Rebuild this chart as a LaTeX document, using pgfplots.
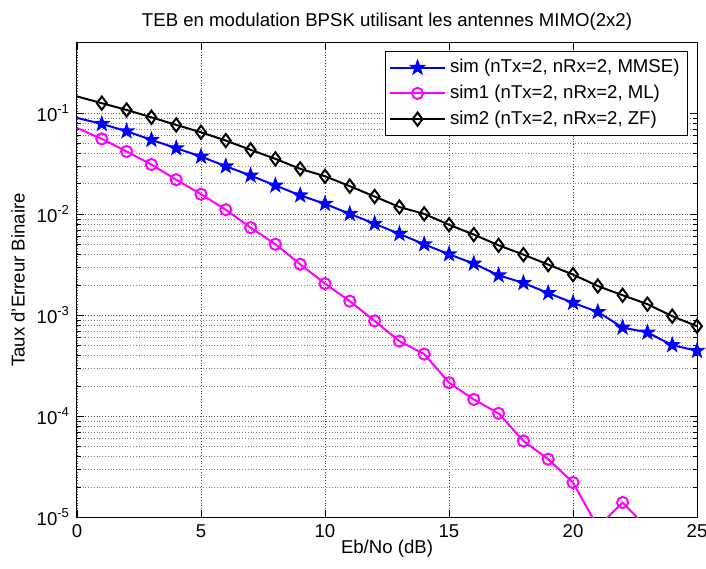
\documentclass[border=0pt]{standalone}
\usepackage{fontspec}
\setmainfont{Liberation Sans}
\usepackage{pgfplots}
\pgfplotsset{compat=1.18}
\definecolor{mblue}{RGB}{0,0,255}
\definecolor{mmag}{RGB}{255,0,255}

% filled five-pointed star, like MATLAB's pentagram marker
\pgfdeclareplotmark{pentagram}{%
  \pgfpathmoveto{\pgfpointpolar{90}{\pgfplotmarksize}}%
  \pgfpathlineto{\pgfpointpolar{126}{0.4\pgfplotmarksize}}%
  \pgfpathlineto{\pgfpointpolar{162}{\pgfplotmarksize}}%
  \pgfpathlineto{\pgfpointpolar{198}{0.4\pgfplotmarksize}}%
  \pgfpathlineto{\pgfpointpolar{234}{\pgfplotmarksize}}%
  \pgfpathlineto{\pgfpointpolar{270}{0.4\pgfplotmarksize}}%
  \pgfpathlineto{\pgfpointpolar{306}{\pgfplotmarksize}}%
  \pgfpathlineto{\pgfpointpolar{342}{0.4\pgfplotmarksize}}%
  \pgfpathlineto{\pgfpointpolar{18}{\pgfplotmarksize}}%
  \pgfpathlineto{\pgfpointpolar{54}{0.4\pgfplotmarksize}}%
  \pgfpathclose
  \pgfusepathqfillstroke
}

\begin{document}
\begin{tikzpicture}
\path[use as bounding box] (-38.5pt,-25.35pt) rectangle (314.5pt,258.65pt);
\begin{axis}[
  scale only axis,
  width=310pt,height=237.3pt,
  font=\fontsize{9.3}{11}\selectfont,
  ymode=log,
  xmin=0,xmax=25,ymin=1e-5,ymax=0.5,
  xtick={0,5,...,25},
  ytick={1e-5,1e-4,1e-3,1e-2,1e-1},
  yticklabels={10\textsuperscript{-5},10\textsuperscript{-4},10\textsuperscript{-3},10\textsuperscript{-2},10\textsuperscript{-1}},
  /pgf/number format/assume math mode=true,
  xmajorgrids,ymajorgrids,yminorgrids,
  major grid style={densely dotted,black!70,line width=0.4pt},
  minor grid style={densely dotted,black!50,line width=0.4pt},
  major tick length=3.5pt,minor tick length=2pt,
  tick style={black,line width=0.4pt},
  axis line style={line width=0.5pt},
  every axis title shift=0pt,
  title={TEB en modulation BPSK utilisant les antennes MIMO(2x2)},
  title style={at={(axis description cs:0.5,1.044)},anchor=center},
  xlabel={Eb/No (dB)},
  xlabel style={at={(axis description cs:0.5,-0.0668)},anchor=center},
  ylabel={Taux d'Erreur Binaire},
  ylabel style={at={(axis description cs:-0.0952,0.5)},anchor=center},
  legend cell align=left,
  legend style={at={(axis description cs:0.9855,0.9825)},anchor=north east,
    draw=black,line width=0.5pt,fill=white,inner sep=2pt,row sep=0.6pt,
    font=\fontsize{9.3}{11}\selectfont},
  legend image code/.code={%
    \draw[#1,mark indices={2}] plot coordinates {(0pt,0pt)(13.75pt,0pt)(27.5pt,0pt)};},
]
\addplot[mblue,line width=1pt,mark=pentagram,mark size=3.8pt,
  mark options={solid,fill=mblue,line width=0.5pt},mark indices={2,...,26}]
  coordinates {(0,0.090)(1,0.0786)(2,0.0664)(3,0.0546)(4,0.0451)(5,0.0373)
  (6,0.0299)(7,0.0242)(8,0.0193)(9,0.0154)(10,0.0127)(11,0.0101)(12,0.00807)
  (13,0.0064)(14,0.00505)(15,0.00402)(16,0.00325)(17,0.00249)(18,0.00209)
  (19,0.00166)(20,0.00133)(21,0.00108)(22,0.000757)(23,0.000676)(24,0.000507)
  (25,0.000445)};
\addlegendentry{sim (nTx=2, nRx=2, MMSE)}
\addplot[mmag,line width=1pt,mark=o,mark size=2.8pt,
  mark options={solid,fill=white,line width=1pt},
  mark indices={2,...,24}]
  coordinates {(0,0.0716)(1,0.0558)(2,0.0419)(3,0.0311)(4,0.0220)(5,0.0158)
  (6,0.0111)(7,0.00738)(8,0.00505)(9,0.0032)(10,0.00206)(11,0.00138)
  (12,0.00088)(13,0.000555)(14,0.000413)(15,0.000215)(16,0.000147)
  (17,0.000107)(18,5.7e-5)(19,3.76e-5)(20,2.21e-5)(21,8e-6)(22,1.4e-5)
  (23,7.8e-6)};
\addlegendentry{sim1 (nTx=2, nRx=2, ML)}
\addplot[black,line width=1pt,mark=diamond,mark size=3.3pt,
  mark options={solid,fill=white,line width=1pt},mark indices={2,...,26}]
  coordinates {(0,0.147)(1,0.126)(2,0.108)(3,0.0913)(4,0.0767)(5,0.0649)
  (6,0.0537)(7,0.0435)(8,0.0354)(9,0.0282)(10,0.0238)(11,0.019)(12,0.0150)
  (13,0.0118)(14,0.0101)(15,0.00788)(16,0.0063)(17,0.00493)(18,0.00399)
  (19,0.00318)(20,0.00253)(21,0.00195)(22,0.00158)(23,0.00129)(24,0.00098)
  (25,0.00078)};
\addlegendentry{sim2 (nTx=2, nRx=2, ZF)}
\end{axis}
\end{tikzpicture}
\end{document}
